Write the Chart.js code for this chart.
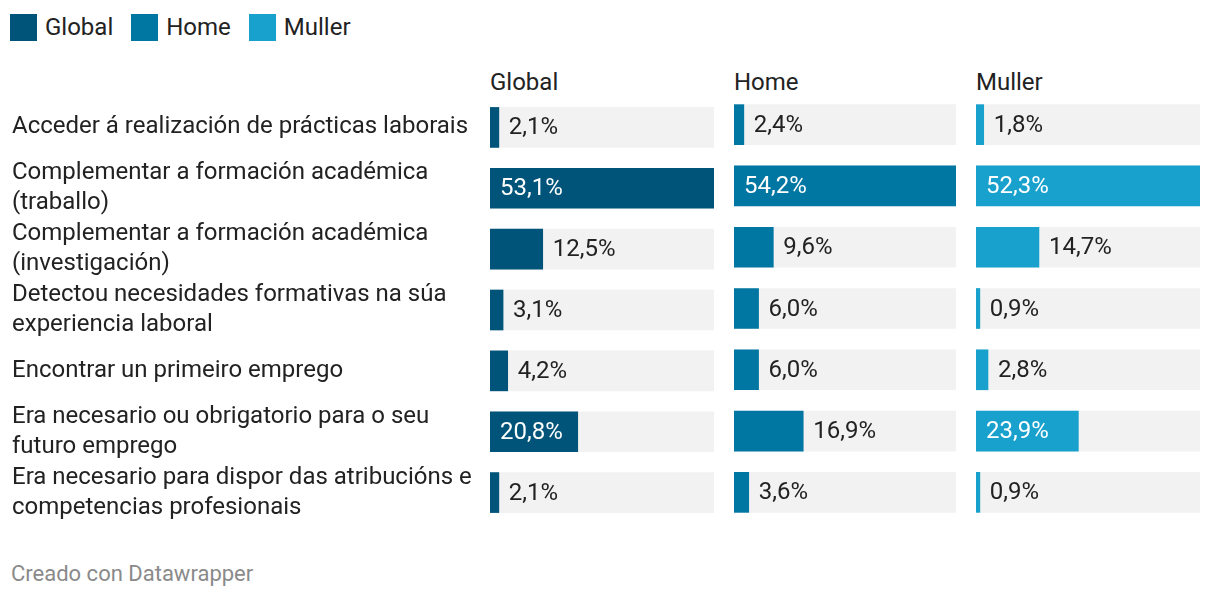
<!DOCTYPE html>
<html>
<head>
<meta charset="utf-8">
<script src="https://cdn.jsdelivr.net/npm/chart.js@4.4.0/dist/chart.umd.min.js"></script>
<style>
  body { margin: 0; background: #fff; font-family: Roboto, sans-serif; color: #222; }
  #wrap { position: relative; width: 1220px; height: 600px; overflow: hidden; }
  .legend { position: absolute; top: 13px; left: 10px; display: flex; font-size: 24px; line-height: 28px; }
  .legend span.item { display: flex; align-items: center; margin-right: 18px; }
  .legend i { display: inline-block; width: 27px; height: 27px; margin-right: 8px; }
  .head { position: absolute; top: 67px; font-size: 24px; line-height: 30px; }
  .panel { position: absolute; top: 64px; height: 489px; }
  .foot { position: absolute; left: 11px; top: 561px; font-size: 22px; color: #8a8a8a; }
</style>
</head>
<body>
<div id="wrap">
  <div class="legend" id="legend"></div>
  <div class="head" style="left:490px">Global</div>
  <div class="head" style="left:734px">Home</div>
  <div class="head" style="left:976px">Muller</div>
  <div class="panel" style="left:12px;width:702px"><canvas id="c0"></canvas></div>
  <div class="panel" style="left:734px;width:222px"><canvas id="c1"></canvas></div>
  <div class="panel" style="left:976px;width:224px"><canvas id="c2"></canvas></div>
  <div class="foot">Creado con Datawrapper</div>
</div>
<script>
const categories = [
  'Acceder á realización de prácticas laborais',
  ['Complementar a formación académica', '(traballo)'],
  ['Complementar a formación académica', '(investigación)'],
  ['Detectou necesidades formativas na súa', 'experiencia laboral'],
  'Encontrar un primeiro emprego',
  ['Era necesario ou obrigatorio para o seu', 'futuro emprego'],
  ['Era necesario para dispor das atribucións e', 'competencias profesionais']
]
const globalValues = [2.1, 53.1, 12.5, 3.1, 4.2, 20.8, 2.1]
const homeValues = [2.4, 54.2, 9.6, 6.0, 6.0, 16.9, 3.6]
const mullerValues = [1.8, 52.3, 14.7, 0.9, 2.8, 23.9, 0.9]

const seriesNames = ['Global', 'Home', 'Muller']
const seriesColors = ['#005479', '#0076a2', '#18a1cd']

const legend = document.getElementById('legend')
seriesNames.forEach((name, i) => {
  legend.innerHTML += `<span class="item"><i style="background:${seriesColors[i]}"></i>${name}</span>`
})

const fmt = v => v.toFixed(1).replace('.', ',') + '%'

// value labels: white inside the bar when it fits, dark after it otherwise
const valueLabels = {
  id: 'valueLabels',
  afterDatasetsDraw(chart) {
    const ctx = chart.ctx
    const meta = chart.getDatasetMeta(1)
    const data = chart.data.datasets[1].data
    ctx.save()
    ctx.font = '24px Roboto'
    ctx.textBaseline = 'middle'
    ctx.textAlign = 'left'
    meta.data.forEach((bar, i) => {
      const text = fmt(data[i])
      const w = ctx.measureText(text).width
      const barW = bar.x - bar.base
      const pad = 10
      if (barW >= w + pad * 2) {
        ctx.fillStyle = '#fff'
        ctx.fillText(text, bar.base + pad, bar.y + 1)
      } else {
        ctx.fillStyle = '#222'
        ctx.fillText(text, bar.x + pad, bar.y + 1)
      }
    })
    ctx.restore()
  }
}

function drawPanel(id, values, color, showLabels) {
  const max = Math.max(...values)
  new Chart(document.getElementById(id), {
    type: 'bar',
    data: {
      labels: categories,
      datasets: [{
        data: values.map(() => max),
        backgroundColor: '#f2f2f2',
        barThickness: 40,
        grouped: false,
        order: 2
      }, {
        data: values,
        backgroundColor: color,
        barThickness: 40,
        minBarLength: 3,
        grouped: false,
        order: 1
      }]
    },
    options: {
      indexAxis: 'y',
      responsive: true,
      maintainAspectRatio: false,
      animation: false,
      layout: { padding: { top: 30, bottom: 30, left: 0, right: 0 } },
      plugins: { legend: { display: false }, tooltip: { enabled: false } },
      scales: {
        x: { display: false, min: 0, max: max },
        y: {
          display: showLabels,
          grid: { display: false },
          border: { display: false },
          ticks: {
            autoSkip: false,
            crossAlign: 'far',
            color: '#222',
            font: { family: 'Roboto', size: 24, lineHeight: 1.25 }
          },
          afterFit(scale) { if (showLabels) scale.width = 478 }
        }
      }
    },
    plugins: [valueLabels]
  })
}

drawPanel('c0', globalValues, seriesColors[0], true)
drawPanel('c1', homeValues, seriesColors[1], false)
drawPanel('c2', mullerValues, seriesColors[2], false)
</script>
</body>
</html>
